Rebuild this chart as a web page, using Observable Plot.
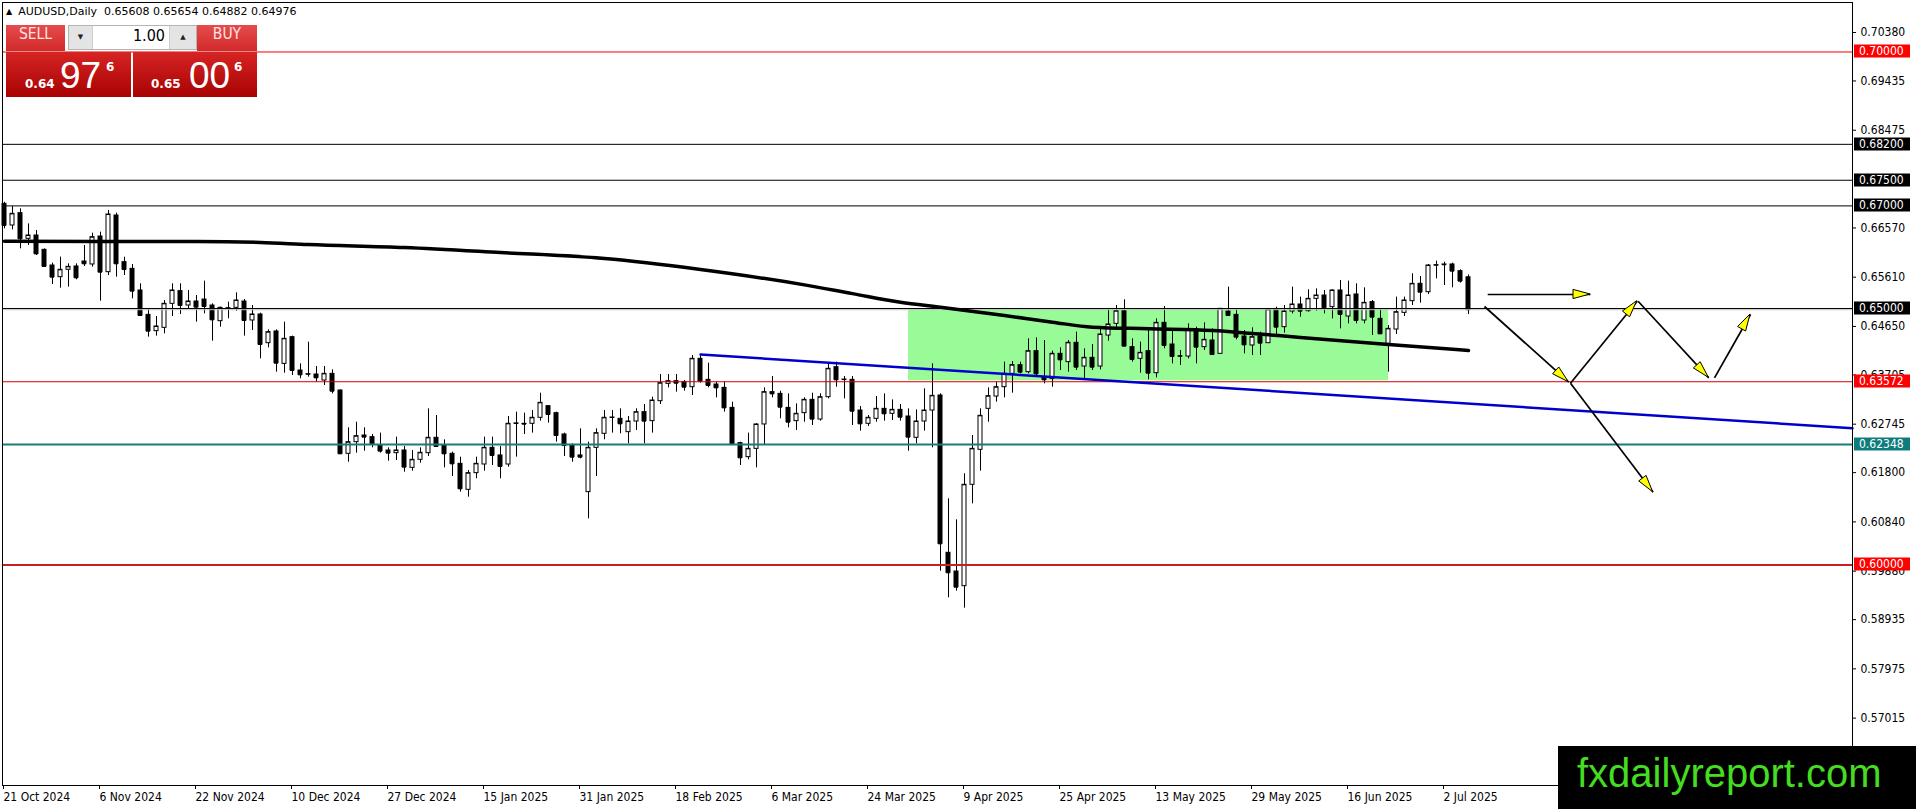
<!DOCTYPE html>
<html><head><meta charset="utf-8">
<script src="https://cdn.jsdelivr.net/npm/d3@7"></script>
<script src="https://cdn.jsdelivr.net/npm/@observablehq/plot@0.6"></script>
<style>
html,body{margin:0;padding:0;background:#fff;}
#wrap{position:relative;width:1916px;height:809px;overflow:hidden;font-family:"DejaVu Sans",sans-serif;}
#chart{position:absolute;left:0;top:0;}
.abs{position:absolute;}
#hdr{left:6px;top:5px;font:11px "DejaVu Sans";color:#000;white-space:nowrap;line-height:14px;}
#hdr .tri{font-size:8px;margin-right:6px;position:relative;top:-1px;}
.topbtn{top:25px;height:27px;background:linear-gradient(#e64c4c,#d22a2a);color:#ffe4e4;text-align:center;line-height:27px;font:15.5px "Liberation Sans Narrow","DejaVu Sans Condensed",sans-serif;box-sizing:border-box;border-bottom:1px solid #ea8a8a;}
.pxbox{top:52px;height:45px;background:linear-gradient(#d62424,#a80202);color:#fff;}
.pxbox .sm{position:absolute;font:bold 12px "DejaVu Sans";line-height:12px;top:26px;}
.pxbox .big{position:absolute;font:37px "Liberation Sans";line-height:37px;top:5px;}
.pxbox .sup{position:absolute;font:bold 12px "DejaVu Sans";line-height:12px;top:9px;}
#spin{left:68px;top:25px;width:129px;height:25px;background:#fff;border:1px solid #b4b4b4;box-sizing:border-box;}
#spin .b{position:absolute;top:0;height:23px;background:#e4e4e4;font-size:7px;line-height:23px;text-align:center;color:#222;}
#spin .v{position:absolute;right:31px;top:0;line-height:23px;font:16px "Liberation Sans Narrow","DejaVu Sans Condensed",sans-serif;color:#000;}
#wm{left:1558px;top:746px;width:358px;height:63px;background:#000;}
#wm span{position:absolute;left:19px;top:7px;font:40px "Liberation Sans",sans-serif;line-height:40px;color:#44dd22;white-space:nowrap;}
</style></head>
<body><div id="wrap"><div id="chart"></div>
<div id="hdr" class="abs"><span class="tri">▲</span>AUDUSD,Daily&nbsp; 0.65608 0.65654 0.64882 0.64976</div>
<div class="abs topbtn" style="left:6px;width:59px;">SELL</div>
<div id="spin" class="abs"><div class="b" style="left:0;width:23px;border-right:1px solid #cfcfcf;">▼</div><div class="v">1.00</div><div class="b" style="right:0;width:26px;border-left:1px solid #cfcfcf;">▲</div></div>
<div class="abs topbtn" style="left:197px;width:60px;">BUY</div>
<div class="abs pxbox" style="left:6px;width:125px;"><span class="sm" style="left:19px;">0.64</span><span class="big" style="left:54px;">97</span><span class="sup" style="left:100px;">6</span></div>
<div class="abs pxbox" style="left:133px;width:124px;"><span class="sm" style="left:18px;">0.65</span><span class="big" style="left:56px;">00</span><span class="sup" style="left:101px;">6</span></div>
<div id="wm" class="abs"><span>fxdailyreport.com</span></div>
</div>
<script>
// ---- data ----
const dateTickIdx = [0,12,24,36,48,60,72,84,96,108,120,132,144,156,168,180];
const dateLabels = ["21 Oct 2024","6 Nov 2024","22 Nov 2024","10 Dec 2024","27 Dec 2024","15 Jan 2025","31 Jan 2025","18 Feb 2025","6 Mar 2025","24 Mar 2025","9 Apr 2025","25 Apr 2025","13 May 2025","29 May 2025","16 Jun 2025","2 Jul 2025"];
const priceTicks = [0.70380,0.69435,0.68475,0.66570,0.65610,0.64650,0.63705,0.62745,0.61800,0.60840,0.59880,0.58935,0.57975,0.57015];

const opens = [0.67040,0.66618,0.66858,0.66358,0.66423,0.66143,0.65838,0.65611,0.65754,0.65819,
0.65916,0.65858,0.66403,0.65708,0.66813,0.65903,0.65773,0.65351,0.64876,0.64558,
0.64623,0.65091,0.65338,0.65058,0.65136,0.65175,0.65058,0.64753,0.64994,0.65013,
0.65136,0.64766,0.64883,0.64324,0.64552,0.63921,0.64441,0.63791,0.63713,0.63713,
0.63596,0.63726,0.63401,0.62167,0.62394,0.62524,0.62492,0.62329,0.62232,0.62180,
0.62232,0.61894,0.62050,0.62180,0.62479,0.62329,0.62167,0.61972,0.61465,0.61790,
0.61959,0.62284,0.62135,0.61959,0.62752,0.62752,0.62752,0.62869,0.63096,0.62960,
0.62544,0.62329,0.62135,0.61420,0.62284,0.62557,0.62869,0.62849,0.62589,0.62797,
0.62979,0.62804,0.63193,0.63531,0.63583,0.63564,0.63466,0.64019,0.63609,0.63518,
0.63453,0.63063,0.62375,0.62102,0.62264,0.62739,0.63369,0.63336,0.63063,0.62804,
0.62960,0.63219,0.62836,0.63271,0.63856,0.63609,0.63609,0.63011,0.62752,0.62849,
0.63044,0.62947,0.63024,0.62895,0.62479,0.62797,0.63011,0.63304,0.60238,0.59873,
0.59587,0.61563,0.62245,0.63044,0.63284,0.63466,0.63726,0.63895,0.63759,0.64168,
0.63661,0.63629,0.64116,0.63954,0.64331,0.63869,0.64038,0.63869,0.64473,0.64701,
0.64948,0.64246,0.64019,0.64168,0.63739,0.64720,0.64298,0.64064,0.64064,0.64584,
0.64246,0.64376,0.64116,0.64941,0.64876,0.64454,0.64279,0.64454,0.64324,0.64974,
0.64636,0.64941,0.65078,0.64948,0.65188,0.65253,0.65026,0.65351,0.64844,0.65273,
0.64766,0.65124,0.64798,0.64311,0.64590,0.64915,0.65143,0.65481,0.65318,0.65838,
0.65858,0.65858,0.65728,0.65608];
const highs = [0.67070,0.66988,0.66943,0.66650,0.66520,0.66163,0.65884,0.66001,0.65871,0.65871,
0.66228,0.66468,0.66488,0.66910,0.66858,0.66001,0.65858,0.65481,0.64993,0.64844,
0.65156,0.65481,0.65481,0.65351,0.65253,0.65533,0.65091,0.65026,0.65124,0.65305,
0.65175,0.65058,0.64909,0.64584,0.64584,0.64734,0.64461,0.63921,0.64344,0.63869,
0.63869,0.63804,0.63414,0.62674,0.62784,0.62674,0.62544,0.62570,0.62284,0.62492,
0.62310,0.62232,0.62284,0.63044,0.62914,0.62440,0.62200,0.62102,0.61842,0.62102,
0.62492,0.62492,0.62310,0.62895,0.62979,0.62960,0.63011,0.63349,0.63109,0.62979,
0.62570,0.62362,0.62654,0.62394,0.62654,0.63011,0.63011,0.63044,0.62895,0.63044,
0.63128,0.63271,0.63713,0.63713,0.63713,0.63596,0.64084,0.64103,0.63934,0.63564,
0.63564,0.63174,0.62394,0.62570,0.62752,0.63453,0.63674,0.63388,0.63336,0.63141,
0.63258,0.63349,0.63336,0.63934,0.63954,0.63674,0.63674,0.63089,0.62914,0.63284,
0.63336,0.63219,0.63128,0.63044,0.63024,0.63434,0.63921,0.63336,0.61290,0.60881,
0.61778,0.62524,0.63044,0.63453,0.63564,0.63954,0.63967,0.63954,0.64409,0.64428,
0.64376,0.64168,0.64233,0.64376,0.64539,0.64214,0.64298,0.64649,0.64974,0.65058,
0.65169,0.64409,0.64344,0.64623,0.64798,0.65039,0.64571,0.64181,0.64701,0.64636,
0.64720,0.64603,0.64993,0.65416,0.64974,0.64571,0.64623,0.64538,0.64993,0.65026,
0.65058,0.65416,0.65221,0.65364,0.65383,0.65351,0.65364,0.65546,0.65533,0.65481,
0.65403,0.65156,0.64974,0.64668,0.65221,0.65221,0.65676,0.65624,0.65858,0.65923,
0.65903,0.65884,0.65754,0.65654];
const lows = [0.66553,0.66533,0.66163,0.66228,0.66033,0.65819,0.65468,0.65396,0.65416,0.65559,
0.65819,0.65806,0.65143,0.65643,0.65611,0.65643,0.65188,0.64844,0.64441,0.64461,
0.64506,0.64844,0.64883,0.64993,0.64733,0.64896,0.64363,0.64636,0.64799,0.64948,
0.64461,0.64571,0.64019,0.64233,0.63759,0.63739,0.63694,0.63629,0.63661,0.63564,
0.63499,0.63336,0.62154,0.62004,0.62180,0.62219,0.62284,0.62180,0.62024,0.62037,
0.61810,0.61829,0.61985,0.62115,0.62297,0.61894,0.61725,0.61420,0.61322,0.61680,
0.61829,0.61939,0.61680,0.61907,0.62102,0.62544,0.62570,0.62804,0.62765,0.62394,
0.62115,0.62004,0.62069,0.60900,0.61725,0.62440,0.62570,0.62557,0.62362,0.62622,
0.62362,0.62570,0.63128,0.63453,0.63369,0.63388,0.63304,0.63544,0.63453,0.63258,
0.62979,0.62349,0.61940,0.62050,0.61894,0.62349,0.63258,0.62849,0.62674,0.62622,
0.62784,0.62719,0.62804,0.63239,0.63466,0.63239,0.62719,0.62609,0.62700,0.62784,
0.62804,0.62817,0.62804,0.62219,0.62362,0.62609,0.62284,0.59879,0.59361,0.59489,
0.59158,0.61192,0.61829,0.62784,0.63174,0.63258,0.63349,0.63726,0.63726,0.63661,
0.63531,0.63466,0.63791,0.63759,0.63791,0.63596,0.63791,0.63804,0.64363,0.64623,
0.64246,0.63954,0.63739,0.63609,0.63648,0.64214,0.63921,0.63889,0.64019,0.63921,
0.64181,0.64084,0.64116,0.64844,0.64389,0.64116,0.64084,0.64084,0.64324,0.64493,
0.64519,0.64896,0.64831,0.64928,0.64948,0.64896,0.64798,0.64603,0.64701,0.64701,
0.64701,0.64473,0.64493,0.63759,0.64493,0.64844,0.65058,0.65104,0.65273,0.65578,
0.65448,0.65403,0.65494,0.64882];
const closes = [0.66618,0.66845,0.66358,0.66423,0.66065,0.65819,0.65611,0.65754,0.65812,0.65598,
0.65871,0.66390,0.65708,0.66832,0.65871,0.65760,0.65338,0.64863,0.64558,0.64649,
0.65091,0.65351,0.65058,0.65136,0.65026,0.65039,0.64779,0.65013,0.65006,0.65156,
0.64766,0.64883,0.64298,0.64539,0.63934,0.64409,0.63791,0.63707,0.63720,0.63648,
0.63726,0.63388,0.62167,0.62394,0.62511,0.62492,0.62362,0.62219,0.62180,0.62232,
0.61907,0.62050,0.62187,0.62479,0.62310,0.62167,0.61972,0.61485,0.61790,0.61972,
0.62284,0.62135,0.61920,0.62752,0.62760,0.62745,0.62869,0.63161,0.62934,0.62524,
0.62329,0.62102,0.62102,0.62284,0.62570,0.62869,0.62875,0.62752,0.62797,0.62979,
0.62804,0.63206,0.63544,0.63583,0.63544,0.63466,0.64019,0.63583,0.63499,0.63453,
0.63063,0.62362,0.62089,0.62264,0.62739,0.63369,0.63336,0.63076,0.62784,0.62947,
0.63219,0.62843,0.63271,0.63824,0.63609,0.63615,0.62998,0.62752,0.62869,0.63044,
0.62947,0.63024,0.62881,0.62492,0.62797,0.63011,0.63297,0.60413,0.59848,0.59567,
0.61563,0.62264,0.62908,0.63291,0.63466,0.63726,0.63895,0.63759,0.64168,0.63726,
0.63609,0.64116,0.63999,0.64331,0.63856,0.64038,0.63856,0.64493,0.64688,0.64948,
0.64266,0.64006,0.64136,0.63739,0.64720,0.64279,0.64064,0.64070,0.64571,0.64246,
0.64389,0.64103,0.64993,0.64863,0.64441,0.64291,0.64441,0.64324,0.64974,0.64636,
0.64941,0.65078,0.64948,0.65188,0.65253,0.65013,0.65351,0.64883,0.65253,0.64766,
0.65110,0.64831,0.64506,0.64603,0.64928,0.65156,0.65480,0.65318,0.65838,0.65845,
0.65852,0.65728,0.65533,0.64976];

// moving average (thick black line), sampled at bar indices
const maIdx = [0,12,24,32,38,50,62,75,87,100,106,112,117,125,131,136,143,151,156,162,173,183];
const maVal = [0.66312,0.66306,0.66306,0.66287,0.66247,0.66189,0.66091,0.65974,0.65760,0.65460,0.65290,0.65123,0.65025,0.64863,0.64733,0.64636,0.64605,0.64571,0.64513,0.64435,0.64298,0.64181];

// horizontal levels
const levelValues = [0.70000,0.68200,0.67500,0.67000,0.65000,0.63572,0.62348,0.60000];
const levelLineColors = ["#ee0000","#000000","#000000","#000000","#000000","#d40000","#1b7b7b","#c82020"];
const levelLineWidths = [1,1,1,1,1,1,2,2];
const levelLabelColors = ["#ff0000","#000000","#000000","#000000","#000000","#ff0000","#0e7c7c","#ff0000"];
const bidPrice = 0.64976;

// green zone
const zoneIdx = [113,173];
const zonePrice = [0.6359,0.6500];
// blue trend line
const trendIdx = [87,231];
const trendPrice = [0.64103,0.62667];
// forecast arrows
const arrowX1 = [185.4,185.0,195.75,204.2,213.75,195.75];
const arrowY1 = [0.65273,0.65039,0.63544,0.65142,0.63649,0.63544];
const arrowX2 = [198.25,195.54,204.09,213.04,218.25,206.08];
const arrowY2 = [0.65273,0.63563,0.65142,0.63649,0.64883,0.61419];

// ---- build ----
const candles = opens.map((o,i)=>({i, o, h:highs[i], l:lows[i], c:closes[i]}));
const ma = maIdx.map((i,k)=>({i, v:maVal[k]}));
const levels = levelValues.map((v,k)=>({v, stroke:levelLineColors[k], w:levelLineWidths[k], bg:levelLabelColors[k]}));
const zone = [{x1:zoneIdx[0], x2:zoneIdx[1], y1:zonePrice[0], y2:zonePrice[1]}];
const trend = trendIdx.map((i,k)=>({i, v:trendPrice[k]}));
const arrows = arrowX1.map((x1,k)=>({x1, y1:arrowY1[k], x2:arrowX2[k], y2:arrowY2[k]}));

const W = 1916, H = 809, mT = 2, mB = 24, mL = 2, mR = 64;
const axisFont = '"DejaVu Sans Condensed","DejaVu Sans",sans-serif';

const plot = Plot.plot({
  width: W, height: H,
  marginTop: mT, marginBottom: mB, marginLeft: mL, marginRight: mR,
  style: {fontFamily: axisFont, fontSize: "12px", color: "#000", background: "#fff"},
  x: {type: "linear", domain: [-0.25, 231], label: null},
  y: {type: "linear", domain: [0.557016, 0.709648], label: null},
  marks: [
    Plot.rect(zone, {x1:"x1", x2:"x2", y1:"y1", y2:"y2", fill:"#98fb98"}),
    Plot.ruleX(candles, {x:"i", y1:"l", y2:"h", stroke:"#000", strokeWidth:1}),
    Plot.rect(candles, {x1:d=>d.i-0.25, x2:d=>d.i+0.25, y1:"o", y2:"c",
      fill:d=>d.c>=d.o ? "#fff" : "#000", stroke:"#000", strokeWidth:1}),
    Plot.ruleY(candles, {y:"c", x1:d=>d.i-0.25, x2:d=>d.i+0.25, stroke:"#000"}),
    Plot.ruleY(levels, {y:"v", stroke:"stroke", strokeWidth:"w"}),
    Plot.ruleY([bidPrice], {stroke:"#c0c0c0"}),
    Plot.line(trend, {x:"i", y:"v", stroke:"#0000cd", strokeWidth:2.5}),
    Plot.line(ma, {x:"i", y:"v", stroke:"#000", strokeWidth:3.5, curve:"monotone-x"}),
    Plot.link(arrows, {x1:"x1", y1:"y1", x2:"x2", y2:"y2", stroke:"#000", strokeWidth:1.7}),
    Plot.frame({stroke:"#000"}),
    Plot.axisY({anchor:"right", ticks: priceTicks, tickFormat: d=>d.toFixed(5), tickSize:3, tickPadding:5, label:null}),
    Plot.axisX({anchor:"bottom", ticks: dateTickIdx, tickFormat: d=>dateLabels[dateTickIdx.indexOf(d)], tickSize:4, tickPadding:3, textAnchor:"start", dx:-1, label:null})
  ]
});
document.getElementById("chart").appendChild(plot);

// overlays computed through the plot's own scales
const xS = plot.scale("x"), yS = plot.scale("y");
const g = d3.select(plot).append("g").attr("text-anchor","start");
// arrowheads
arrows.forEach(a=>{
  const p1 = [xS.apply(a.x1), yS.apply(a.y1)], p2 = [xS.apply(a.x2), yS.apply(a.y2)];
  const dx = p2[0]-p1[0], dy = p2[1]-p1[1], len = Math.hypot(dx,dy);
  const ux = dx/len, uy = dy/len, nx = -uy, ny = ux;
  const L = 17, Wd = 4.6;
  const b = [p2[0]-ux*L, p2[1]-uy*L];
  g.append("polygon")
    .attr("points", [[p2[0],p2[1]],[b[0]+nx*Wd,b[1]+ny*Wd],[b[0]-nx*Wd,b[1]-ny*Wd]].map(p=>p.join(",")).join(" "))
    .attr("fill","#ffff00").attr("stroke","#000").attr("stroke-width",1);
});
// price level labels on the right axis
levels.forEach(l=>{
  const y = Math.round(yS.apply(l.v));
  g.append("rect").attr("x", W-mR+2).attr("y", y-6.5).attr("width",56).attr("height",13).attr("fill", l.bg);
  g.append("text").attr("x", W-mR+7).attr("y", y).attr("dy","0.36em")
    .attr("text-anchor","start")
    .attr("fill","#fff").attr("font-family", axisFont).attr("font-size","12px")
    .text(l.v.toFixed(5));
});
</script>
</body></html>
